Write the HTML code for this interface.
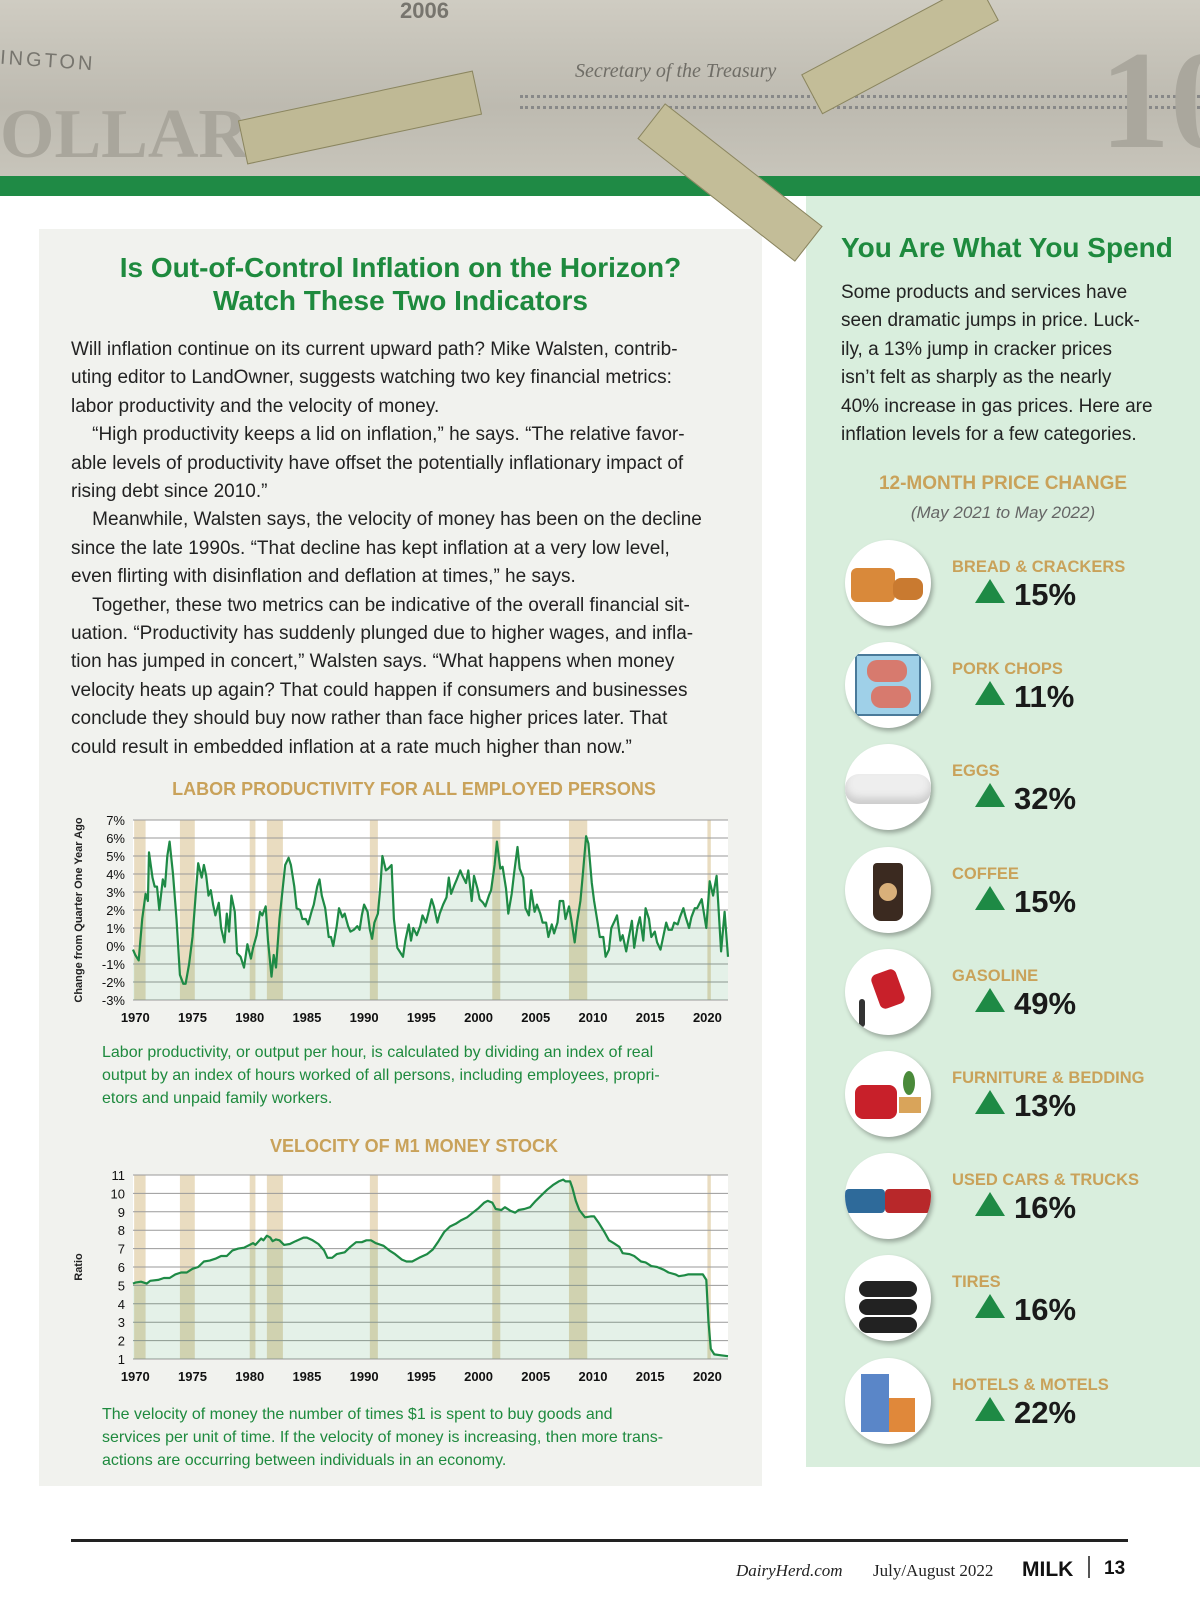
<!DOCTYPE html>
<html><head><meta charset="utf-8">
<style>
*{margin:0;padding:0;box-sizing:border-box}
body{width:1200px;height:1618px;position:relative;background:#fff;font-family:"Liberation Sans","DejaVu Sans",sans-serif;overflow:hidden}
.abs{position:absolute}
#banner{left:0;top:0;width:1200px;height:178px;background:linear-gradient(180deg,#cfccc2 0%,#bdbab0 60%,#c8c5bb 100%);overflow:hidden}
#stripe{left:0;top:176px;width:1200px;height:20px;background:#1f8a45}
#leftpanel{left:39px;top:229px;width:723px;height:1257px;background:#f1f2ee}
#rightpanel{left:806px;top:196px;width:394px;height:1271px;background:#d9eedd}
.title{color:#1e8a3e;font-weight:bold;font-size:28px;text-align:center;width:723px;left:39px;line-height:33px}
.body{left:71px;top:336px;width:700px;font-size:19px;line-height:28.4px;color:#222;white-space:nowrap}
.rhead{left:841px;top:232px;color:#1e8a3e;font-weight:bold;font-size:28px}
.rbody{left:841px;top:279px;width:360px;font-size:19px;line-height:28.4px;color:#222;white-space:nowrap}
.ctitle{color:#c9a25a;font-weight:bold;font-size:18px;text-align:center;left:39px;width:750px}
.cap{color:#1e8a3e;font-size:16px;line-height:23px;left:102px;width:660px;white-space:nowrap}
.item-label{color:#c9a25a;font-weight:bold;font-size:16.5px;left:952px}
.item-val{font-weight:bold;font-size:31px;color:#1a1a1a;left:1014px}
.arrow{left:975px;width:0;height:0;border-left:15px solid transparent;border-right:15px solid transparent;border-bottom:24px solid #1e8a45}
.circ{width:86px;height:86px;border-radius:50%;background:#fff;box-shadow:2px 3px 5px rgba(0,0,0,.3);left:845px;overflow:hidden}
</style></head><body>
<div id="banner" class="abs">
  <div class="abs" style="left:400px;top:-2px;font-size:22px;color:#77756e;font-weight:bold">2006</div>
  <div class="abs" style="left:0;top:50px;font-size:20px;color:#77756e;letter-spacing:3px;transform:rotate(4deg)">INGTON</div>
  <div class="abs" style="left:0;top:95px;font-size:70px;color:#a9a69c;font-weight:bold;font-family:'Liberation Serif',serif">OLLAR</div>
  <div class="abs" style="left:575px;top:60px;font-size:20px;color:#6f6d66;font-style:italic;font-family:'Liberation Serif',serif">Secretary of the Treasury</div>
  <div class="abs" style="left:520px;top:95px;width:680px;height:14px;border-top:3px dotted #888;border-bottom:3px dotted #888"></div>
  <div class="abs" style="left:1100px;top:20px;font-size:140px;color:#aaa79d;font-weight:bold;font-family:'Liberation Serif',serif">10</div>
  <div class="abs" style="left:240px;top:95px;width:240px;height:45px;background:#bfb995;border:1px solid #8a8560;transform:rotate(-12deg)"></div>
  <div class="abs" style="left:800px;top:25px;width:200px;height:45px;background:#c3bd98;border:1px solid #8a8560;transform:rotate(-28deg)"></div>
</div>
<div id="stripe" class="abs"></div>
<div class="abs" style="left:630px;top:160px;width:200px;height:45px;background:#c3bd98;border:1px solid #8a8560;transform:rotate(38deg);z-index:3"></div>
<div id="leftpanel" class="abs"></div>
<div id="rightpanel" class="abs"></div>

<div class="abs title" style="top:251px">Is Out-of-Control Inflation on the Horizon?<br>Watch These Two Indicators</div>
<div class="abs body">Will inflation continue on its current upward path? Mike Walsten, contrib-<br>uting editor to LandOwner, suggests watching two key financial metrics:<br>labor productivity and the velocity of money.<br>&nbsp;&nbsp;&nbsp;&nbsp;“High productivity keeps a lid on inflation,” he says. “The relative favor-<br>able levels of productivity have offset the potentially inflationary impact of<br>rising debt since 2010.”<br>&nbsp;&nbsp;&nbsp;&nbsp;Meanwhile, Walsten says, the velocity of money has been on the decline<br>since the late 1990s. “That decline has kept inflation at a very low level,<br>even flirting with disinflation and deflation at times,” he says.<br>&nbsp;&nbsp;&nbsp;&nbsp;Together, these two metrics can be indicative of the overall financial sit-<br>uation. “Productivity has suddenly plunged due to higher wages, and infla-<br>tion has jumped in concert,” Walsten says. “What happens when money<br>velocity heats up again? That could happen if consumers and businesses<br>conclude they should buy now rather than face higher prices later. That<br>could result in embedded inflation at a rate much higher than now.”</div>

<div class="abs ctitle" style="top:779px">LABOR PRODUCTIVITY FOR ALL EMPLOYED PERSONS</div>
<div class="abs cap" style="top:1041px">Labor productivity, or output per hour, is calculated by dividing an index of real<br>output by an index of hours worked of all persons, including employees, propri-<br>etors and unpaid family workers.</div>
<div class="abs ctitle" style="top:1136px">VELOCITY OF M1 MONEY STOCK</div>
<div class="abs cap" style="top:1403px">The velocity of money the number of times $1 is spent to buy goods and<br>services per unit of time. If the velocity of money is increasing, then more trans-<br>actions are occurring between individuals in an economy.</div>

<svg id="charts" class="abs" style="left:0;top:0" width="1200" height="1618"></svg>

<div class="abs rhead">You Are What You Spend</div>
<div class="abs rbody">Some products and services have<br>seen dramatic jumps in price. Luck-<br>ily, a 13% jump in cracker prices<br>isn’t felt as sharply as the nearly<br>40% increase in gas prices. Here are<br>inflation levels for a few categories.</div>
<div class="abs" style="left:806px;width:394px;top:473px;text-align:center;color:#c9a25a;font-weight:bold;font-size:19px">12-MONTH PRICE CHANGE</div>
<div class="abs" style="left:806px;width:394px;top:503px;text-align:center;color:#666;font-style:italic;font-size:17px">(May 2021 to May 2022)</div>
<div id="items"></div>

<div class="abs" style="left:71px;top:1539px;width:1057px;height:3px;background:#222"></div>
<div class="abs" style="left:736px;top:1561px;font-family:'Liberation Serif',serif;font-style:italic;font-size:17px;color:#222">DairyHerd.com</div>
<div class="abs" style="left:873px;top:1561px;font-family:'Liberation Serif',serif;font-size:17px;color:#222">July/August 2022</div>
<div class="abs" style="left:1022px;top:1558px;font-weight:bold;font-size:21px;color:#111">MILK</div>
<div class="abs" style="left:1088px;top:1556px;width:2px;height:22px;background:#555"></div>
<div class="abs" style="left:1104px;top:1558px;font-weight:bold;font-size:19px;color:#111">13</div>

<script>
// ---- Productivity data ----
const prodYears=[1969.8,1970.0,1970.3,1970.6,1970.9,1971.1,1971.2,1971.5,1971.7,1971.9,1972.1,1972.4,1972.6,1972.8,1973.0,1973.3,1973.6,1973.9,1974.2,1974.4,1974.7,1975.0,1975.3,1975.5,1975.8,1976.0,1976.2,1976.4,1976.6,1976.8,1977.0,1977.3,1977.5,1977.8,1978.0,1978.2,1978.4,1978.7,1978.9,1979.2,1979.5,1979.8,1980.1,1980.3,1980.6,1980.9,1981.1,1981.4,1981.6,1981.9,1982.1,1982.3,1982.6,1982.9,1983.1,1983.4,1983.6,1983.9,1984.1,1984.4,1984.6,1984.9,1985.1,1985.4,1985.6,1985.9,1986.1,1986.3,1986.6,1986.9,1987.1,1987.3,1987.6,1987.8,1988.1,1988.3,1988.6,1988.8,1989.1,1989.4,1989.6,1989.8,1990.0,1990.3,1990.5,1990.7,1990.9,1991.2,1991.4,1991.6,1991.9,1992.1,1992.4,1992.6,1992.9,1993.1,1993.4,1993.6,1993.9,1994.1,1994.3,1994.6,1994.9,1995.1,1995.4,1995.6,1995.9,1996.1,1996.4,1996.6,1996.9,1997.2,1997.4,1997.6,1997.9,1998.1,1998.4,1998.6,1998.9,1999.1,1999.4,1999.6,1999.9,2000.1,2000.4,2000.6,2000.9,2001.1,2001.4,2001.6,2001.9,2002.1,2002.4,2002.6,2002.9,2003.1,2003.4,2003.6,2003.9,2004.1,2004.4,2004.6,2004.9,2005.1,2005.4,2005.6,2005.9,2006.1,2006.4,2006.6,2006.9,2007.1,2007.4,2007.6,2007.9,2008.1,2008.4,2008.6,2008.9,2009.1,2009.4,2009.6,2009.9,2010.1,2010.4,2010.6,2010.9,2011.1,2011.4,2011.6,2011.9,2012.1,2012.4,2012.6,2012.9,2013.1,2013.4,2013.6,2013.9,2014.1,2014.4,2014.6,2014.9,2015.1,2015.4,2015.6,2015.9,2016.1,2016.4,2016.6,2016.9,2017.1,2017.4,2017.6,2017.9,2018.1,2018.4,2018.6,2018.9,2019.1,2019.5,2019.9,2020.2,2020.5,2020.8,2021.2,2021.5,2021.8];
const prodValues=[-0.2,-0.5,-0.8,1.5,2.9,2.5,5.2,3.8,3.3,3.3,2.0,3.7,3.3,5.0,5.8,4.0,1.5,-1.6,-2.1,-2.1,-1.0,0.5,3.0,4.6,3.8,4.5,3.9,2.8,3.1,2.3,1.7,2.4,1.0,0.2,1.8,0.8,2.8,1.9,-0.4,-0.6,-1.2,0.1,-0.7,-0.1,0.6,1.9,1.7,2.2,0.3,-1.7,-0.5,-1.2,1.5,3.3,4.5,4.9,4.5,3.3,2.1,2.0,1.5,1.5,1.2,1.9,2.3,3.3,3.7,2.8,2.1,0.5,0.5,0.0,1.1,2.1,1.6,1.8,1.1,0.8,0.9,1.1,0.9,1.7,2.3,1.9,0.9,0.4,1.3,1.8,3.2,5.0,4.2,4.3,4.5,1.5,-0.1,-0.3,-0.6,0.3,1.2,0.3,1.0,0.6,1.1,1.7,1.3,1.8,2.6,2.2,1.3,1.8,2.3,2.7,3.8,2.9,3.4,3.7,4.2,3.9,3.5,4.2,2.5,3.9,3.2,2.6,2.4,2.2,2.8,3.1,4.5,5.8,4.3,4.4,3.2,1.8,2.9,4.0,5.5,4.3,3.8,2.1,1.7,3.1,1.9,2.3,1.8,1.3,1.3,0.5,1.2,0.7,1.3,2.5,2.5,1.5,2.2,1.5,0.2,1.3,2.5,3.9,6.1,5.7,3.5,2.5,1.3,0.5,0.5,-0.6,-0.2,1.0,1.4,1.7,0.3,0.6,-0.3,0.4,1.4,-0.1,1.1,1.6,0.3,2.1,1.5,0.5,0.8,0.2,-0.2,0.4,1.3,0.9,0.9,1.3,1.2,1.6,2.1,1.6,1.0,1.6,2.1,2.1,2.6,1.0,3.6,2.8,3.9,-0.3,1.9,-0.6];
const prodTicks=[-3,-2,-1,0,1,2,3,4,5,6,7];
// ---- Velocity data ----
const velYears=[1969.8,1970,1970.5,1971,1971.3,1972,1972.5,1973,1973.5,1974,1974.5,1975,1975.5,1976,1976.5,1977,1977.5,1978,1978.5,1979,1979.5,1980,1980.3,1980.5,1981,1981.2,1981.5,1981.8,1982,1982.3,1982.6,1983,1983.5,1984,1984.7,1985,1985.5,1986,1986.5,1986.8,1987.2,1987.6,1988.3,1988.8,1989.3,1989.8,1990.2,1990.6,1991,1991.7,1992.2,1992.7,1993.3,1993.7,1994.2,1994.8,1995.5,1996,1996.5,1997,1997.5,1998,1998.5,1999,1999.5,2000,2000.5,2000.8,2001.2,2001.5,2002,2002.3,2002.8,2003.2,2003.5,2004,2004.5,2005,2005.5,2006,2006.5,2007,2007.4,2007.6,2008,2008.2,2008.5,2008.8,2009.3,2009.8,2010.1,2010.5,2011,2011.4,2011.8,2012.3,2012.6,2013.2,2013.6,2014.2,2014.6,2015.1,2015.6,2016.2,2016.6,2017.2,2017.5,2018,2018.3,2019,2019.6,2019.9,2020.1,2020.3,2020.6,2021.2,2021.8];
const velValues=[5.1,5.15,5.2,5.1,5.25,5.3,5.4,5.4,5.6,5.7,5.7,5.9,6.0,6.3,6.35,6.45,6.6,6.6,6.9,7.0,7.05,7.2,7.3,7.2,7.55,7.45,7.7,7.6,7.4,7.5,7.45,7.2,7.25,7.4,7.6,7.6,7.45,7.25,6.9,6.5,6.5,6.7,6.8,7.1,7.35,7.35,7.45,7.45,7.3,7.15,6.9,6.7,6.4,6.3,6.3,6.5,6.7,6.95,7.4,7.9,8.2,8.35,8.55,8.7,8.95,9.2,9.5,9.6,9.5,9.15,9.1,9.25,9.05,8.95,9.1,9.15,9.25,9.6,9.9,10.2,10.45,10.65,10.75,10.65,10.65,10.3,9.6,9.1,8.7,8.75,8.75,8.4,7.9,7.45,7.3,7.1,6.75,6.7,6.6,6.3,6.25,6.05,6.0,5.85,5.7,5.6,5.5,5.55,5.6,5.6,5.6,5.3,3.0,1.55,1.25,1.2,1.15];
const velTicks=[1,2,3,4,5,6,7,8,9,10,11];
const xTickYears=[1970,1975,1980,1985,1990,1995,2000,2005,2010,2015,2020];
const recStart=[1969.9,1973.9,1980.0,1981.5,1990.5,2001.2,2007.9,2020.0];
const recEnd=[1970.9,1975.2,1980.5,1982.9,1991.2,2001.9,2009.5,2020.3];

const NS='http://www.w3.org/2000/svg';
const svg=document.getElementById('charts');
function mk(tag,attrs,parent){const e=document.createElementNS(NS,tag);for(const k in attrs)e.setAttribute(k,attrs[k]);(parent||svg).appendChild(e);return e;}
const X0=1969.8,X1=2021.8,PL=133,PR=728;
function xs(y){return PL+(y-X0)/(X1-X0)*(PR-PL);}

function drawChart(cfg){
  const ys=v=>cfg.bottom-(v-cfg.vmin)/(cfg.vmax-cfg.vmin)*(cfg.bottom-cfg.top);
  const g=mk('g',{});
  
  
  const bg=mk('rect',{x:PL,y:cfg.top,width:PR-PL,height:cfg.bottom-cfg.top,fill:'#fff'},g);
  
  
  for(let i=0;i<recStart.length;i++){
    const r=mk('rect',{x:xs(recStart[i]),y:cfg.top,width:Math.max(2,xs(recEnd[i])-xs(recStart[i])),height:cfg.bottom-cfg.top,fill:'#e9dcc0'},g);
    
    
  }
  cfg.ticks.forEach(t=>{
    const l=mk('line',{x1:PL,x2:PR,y1:ys(t),y2:ys(t),stroke:'#9a9a9a','stroke-width':1},g);
    
    
    const tx=mk('text',{x:PL-8,y:ys(t)+5,'text-anchor':'end','font-size':13,fill:'#111','font-family':'Liberation Sans, sans-serif'},g);
    tx.textContent=cfg.fmt(t);
    
    
  });
  xTickYears.forEach(yr=>{
    const tx=mk('text',{x:xs(yr),y:cfg.bottom+22,'text-anchor':'middle','font-size':13,'font-weight':'bold',fill:'#111','font-family':'Liberation Sans, sans-serif'},g);
    tx.textContent=yr;
    
    
  });
  let d='';
  cfg.xv.forEach((x,i)=>{d+=(i?'L':'M')+xs(x).toFixed(1)+','+ys(cfg.yv[i]).toFixed(1);});
  const area=mk('path',{d:d+'L'+xs(cfg.xv[cfg.xv.length-1])+','+cfg.bottom+'L'+xs(cfg.xv[0])+','+cfg.bottom+'Z',fill:'rgba(30,138,69,0.12)'},g);
  
  
  const line=mk('path',{d:d,fill:'none',stroke:'#1e8a45','stroke-width':2.2,'stroke-linejoin':'round'},g);
  
  
  const yt=mk('text',{transform:'translate('+cfg.titleX+','+cfg.titleY+') rotate(-90)','text-anchor':'middle','font-size':11,'font-weight':'bold',fill:'#222','font-family':'Liberation Sans, sans-serif'},g);
  yt.textContent=cfg.ytitle;
  
  
}
drawChart({name:'productivity-chart',top:820,bottom:1000,vmin:-3,vmax:7,ticks:prodTicks,fmt:t=>t+'%',xv:prodYears,yv:prodValues,ytitle:'Change from Quarter One Year Ago',titleX:82,titleY:910});
drawChart({name:'velocity-chart',top:1175,bottom:1359,vmin:1,vmax:11,ticks:velTicks,fmt:t=>String(t),xv:velYears,yv:velValues,ytitle:'Ratio',titleX:82,titleY:1267});

// ---- Sidebar items ----
const itemNames=['BREAD & CRACKERS','PORK CHOPS','EGGS','COFFEE','GASOLINE','FURNITURE & BEDDING','USED CARS & TRUCKS','TIRES','HOTELS & MOTELS'];
const itemValues=[15,11,32,15,49,13,16,16,22];
const iconHTML=[
 '<div style="position:absolute;left:6px;top:28px;width:44px;height:34px;background:#d9893a;border-radius:6px"></div><div style="position:absolute;left:48px;top:38px;width:30px;height:22px;background:#c97a30;border-radius:8px"></div>',
 '<div style="position:absolute;left:10px;top:12px;width:66px;height:62px;background:#9fd0e8;border:2px solid #4a7a9a"></div><div style="position:absolute;left:22px;top:18px;width:40px;height:22px;background:#d77a6e;border-radius:10px"></div><div style="position:absolute;left:26px;top:44px;width:40px;height:22px;background:#d77a6e;border-radius:10px"></div>',
 '<div style="position:absolute;left:0;top:30px;width:86px;height:30px;background:#eee;border-radius:14px;box-shadow:inset 0 -6px 8px #ccc"></div>',
 '<div style="position:absolute;left:28px;top:16px;width:30px;height:58px;background:#3b2a20;border-radius:4px 4px 8px 8px"></div><div style="position:absolute;left:34px;top:36px;width:18px;height:18px;background:#d9b07a;border-radius:50%"></div>',
 '<div style="position:absolute;left:30px;top:22px;width:26px;height:36px;background:#c8202a;border-radius:6px;transform:rotate(-20deg)"></div><div style="position:absolute;left:14px;top:50px;width:6px;height:28px;background:#333;border-radius:3px"></div>',
 '<div style="position:absolute;left:10px;top:34px;width:42px;height:34px;background:#c8202a;border-radius:8px"></div><div style="position:absolute;left:54px;top:46px;width:22px;height:16px;background:#d9a45a"></div><div style="position:absolute;left:58px;top:20px;width:12px;height:24px;background:#4a8a3a;border-radius:50%"></div>',
 '<div style="position:absolute;left:0;top:36px;width:40px;height:24px;background:#2e6a9a;border-radius:4px"></div><div style="position:absolute;left:40px;top:36px;width:46px;height:24px;background:#b8282a;border-radius:4px"></div>',
 '<div style="position:absolute;left:14px;top:26px;width:58px;height:16px;background:#222;border-radius:8px"></div><div style="position:absolute;left:14px;top:44px;width:58px;height:16px;background:#222;border-radius:8px"></div><div style="position:absolute;left:14px;top:62px;width:58px;height:16px;background:#222;border-radius:8px"></div>',
 '<div style="position:absolute;left:16px;top:16px;width:28px;height:58px;background:#5a86c8"></div><div style="position:absolute;left:44px;top:40px;width:26px;height:34px;background:#e0883a"></div>'
];
const items=document.getElementById('items');
itemNames.forEach((n,i)=>{
  const cy=583+i*102.2;
  const c=document.createElement('div');
  c.className='abs circ';c.style.top=(cy-43)+'px';
  c.innerHTML=iconHTML[i];
  
  
  items.appendChild(c);
  const l=document.createElement('div');
  l.className='abs item-label';l.style.top=(cy-25)+'px';l.textContent=n;
  
  
  items.appendChild(l);
  const a=document.createElement('div');
  a.className='abs arrow';a.style.top=(cy-4)+'px';
  
  
  items.appendChild(a);
  const v=document.createElement('div');
  v.className='abs item-val';v.style.top=(cy-6)+'px';v.textContent=itemValues[i]+'%';
  
  
  items.appendChild(v);
});
</script>
</body></html>
